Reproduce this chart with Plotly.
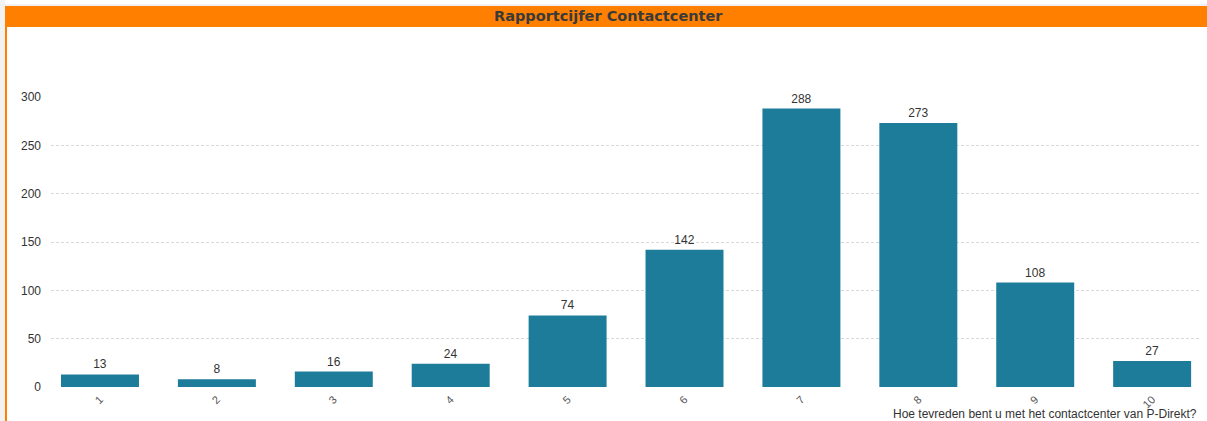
import plotly.graph_objects as go

categories = ["1", "2", "3", "4", "5", "6", "7", "8", "9", "10"]
counts = [13, 8, 16, 24, 74, 142, 288, 273, 108, 27]
y_ticks = [0, 50, 100, 150, 200, 250, 300]
title_text = "Rapportcijfer Contactcenter"
x_title = "Hoe tevreden bent u met het contactcenter van P-Direkt?"

W, H = 1207, 421
L, R, T, B = 51, 6, 96, 33
pw, ph = W - L - R, H - T - B

def px(x):
    return (x - L) / pw

def py(y):
    return (H - B - y) / ph

fig = go.Figure()
fig.add_trace(go.Bar(
    x=list(range(len(categories))), y=counts,
    width=0.667,
    marker=dict(color="#1e7c9b", line=dict(width=0)),
    text=[str(c) for c in counts], textposition="outside",
    textfont=dict(family="Liberation Sans, Arial", size=12, color="#333333"),
    cliponaxis=False,
))

shapes = [
    dict(type="rect", xref="paper", yref="paper", x0=px(0), x1=px(5), y0=py(H), y1=py(0),
         fillcolor="#f2f2f2", line=dict(width=0), layer="below"),
    dict(type="rect", xref="paper", yref="paper", x0=px(5), x1=px(7), y0=py(H), y1=py(6),
         fillcolor="#ff8000", line=dict(width=0)),
    dict(type="rect", xref="paper", yref="paper", x0=px(0), x1=px(W), y0=py(6), y1=py(4),
         fillcolor="#f0f0f0", line=dict(width=0)),
    dict(type="rect", xref="paper", yref="paper", x0=px(5), x1=px(W), y0=py(27), y1=py(6),
         fillcolor="#ff8000", line=dict(width=0)),
]

annotations = [
    dict(text="<b>" + title_text + "</b>", xref="paper", yref="paper", x=px(608), y=py(16.5),
         xanchor="center", yanchor="middle", showarrow=False,
         font=dict(family="DejaVu Sans", size=14.5, color="#3a3a3a")),
    dict(text=x_title, xref="paper", yref="paper", x=px(1199), y=py(414),
         xanchor="right", yanchor="middle", showarrow=False,
         font=dict(family="Liberation Sans, Arial", size=12, color="#333333")),
]

fig.update_layout(
    width=W, height=H,
    margin=dict(l=L, r=R, t=T, b=B, pad=0),
    paper_bgcolor="white", plot_bgcolor="white",
    showlegend=False,
    shapes=shapes,
    annotations=annotations,
    xaxis=dict(
        range=[-0.419, 9.418],
        tickmode="array", tickvals=list(range(len(categories))), ticktext=categories,
        tickangle=-45, showgrid=False, zeroline=False, showline=False,
        ticks="", ticklen=0, ticklabelstandoff=2,
        tickfont=dict(family="Liberation Sans, Arial", size=11, color="#555555"),
    ),
    yaxis=dict(
        range=[-1, 301],
        tickmode="array", tickvals=y_ticks,
        showgrid=True, gridcolor="#d9d9d9", griddash="3px,2px", gridwidth=1,
        zeroline=False, showline=False, ticks="", ticklabelstandoff=9,
        tickfont=dict(family="Liberation Sans, Arial", size=12, color="#333333"),
    ),
)

fig.write_html("out.html", config={"displayModeBar": False},
               post_script="document.body.style.margin='0px';document.body.style.overflow='hidden';")
